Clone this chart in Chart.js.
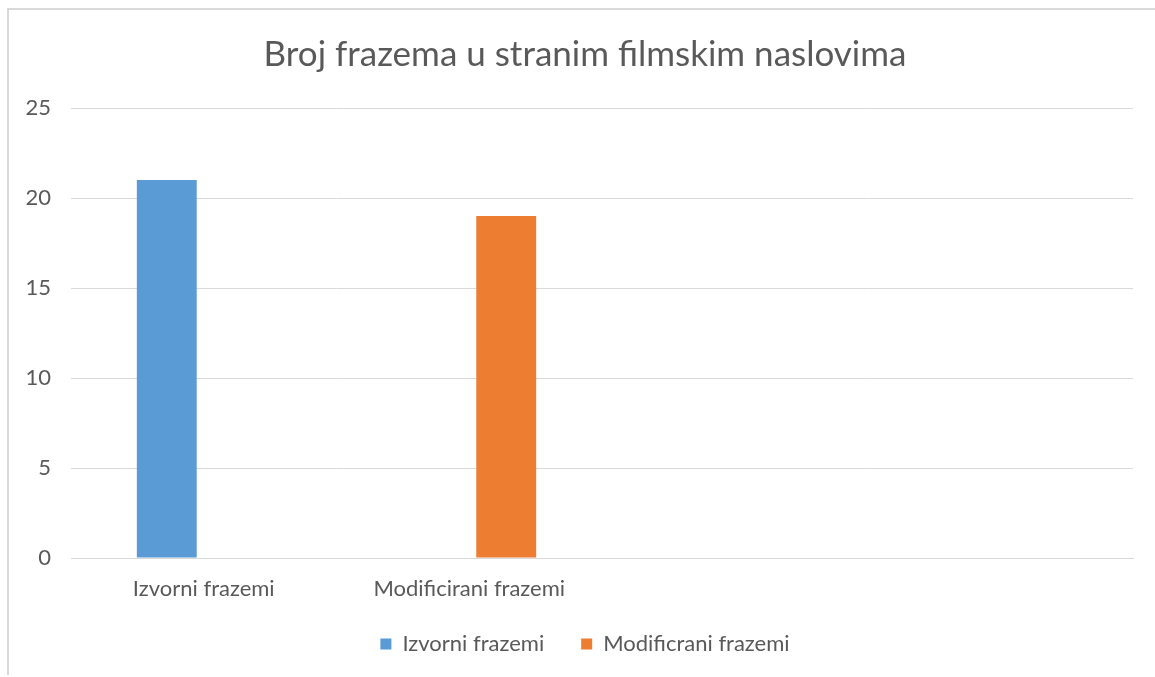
<!DOCTYPE html>
<html>
<head>
<meta charset="utf-8">
<script src="https://cdn.jsdelivr.net/npm/chart.js@4.4.0/dist/chart.umd.min.js"></script>
<style>
  html, body { margin: 0; padding: 0; background: #ffffff; overflow: hidden; width: 1155px; height: 677px; }
  #frame { position: absolute; left: 7px; top: 8px; width: 1160px; height: 667px; border-top: 2px solid #d9d9d9; border-left: 2px solid #d9d9d9; box-sizing: border-box; }
  #wrap { position: absolute; left: 0; top: 0; width: 1170px; height: 677px; }
</style>
</head>
<body>
<div id="frame"></div>
<div id="wrap"><canvas id="c" width="1170" height="677"></canvas></div>
<script>
const chartTitle = 'Broj frazema u stranim filmskim naslovima';
const categories = ['Izvorni frazemi', 'Modificirani frazemi', '', ''];
const seriesNames = ['Izvorni frazemi', 'Modificrani frazemi'];
const izvorniValues = [21, null, null, null];
const modificiraniValues = [null, 19, null, null];
const yTicks = [0, 5, 10, 15, 20, 25];

const textColor = '#595959';
const gridColor = '#d9d9d9';

new Chart(document.getElementById('c'), {
  type: 'bar',
  data: {
    labels: categories,
    datasets: [
      { label: seriesNames[0], data: izvorniValues, backgroundColor: '#5b9bd5', borderWidth: 0,
        categoryPercentage: 0.557, barPercentage: 0.81 },
      { label: seriesNames[1], data: modificiraniValues, backgroundColor: '#ed7d31', borderWidth: 0,
        categoryPercentage: 0.557, barPercentage: 0.81 }
    ]
  },
  options: {
    responsive: false,
    animation: false,
    devicePixelRatio: 1,
    layout: { padding: { left: 0, right: 0, top: 0, bottom: 12 } },
    plugins: {
      title: {
        display: true,
        text: chartTitle,
        color: textColor,
        font: { family: 'Lato', size: 35, weight: 'normal' },
        padding: { top: 34, bottom: 32 }
      },
      legend: {
        position: 'bottom',
        labels: {
          color: textColor,
          font: { family: 'Lato', size: 22 },
          boxWidth: 11,
          boxHeight: 11,
          padding: 37
        }
      },
      tooltip: { enabled: false }
    },
    scales: {
      x: {
        grid: { display: false, drawTicks: false },
        border: { display: true, color: gridColor, width: 1 },
        afterFit: (s) => { s.height = 38; },
        ticks: { color: textColor, font: { family: 'Lato', size: 22 }, padding: 18, maxRotation: 0, autoSkip: false }
      },
      y: {
        min: 0, max: 25,
        afterBuildTicks: (s) => { s.ticks = yTicks.map(v => ({ value: v })); },
        afterFit: (s) => { s.width = 71; },
        grid: { color: gridColor, lineWidth: 1, drawTicks: false },
        border: { display: false },
        ticks: { color: textColor, font: { family: 'Lato', size: 22 }, padding: 20 }
      },
      yRight: {
        position: 'right',
        display: true,
        afterFit: (s) => { s.width = 37; },
        grid: { display: false, drawTicks: false },
        border: { display: false },
        ticks: { display: false }
      }
    }
  }
});
</script>
</body>
</html>
